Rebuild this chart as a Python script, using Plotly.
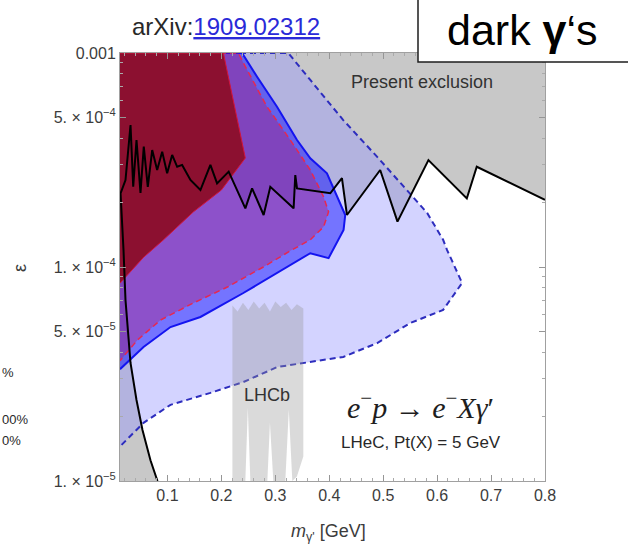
import plotly.graph_objects as go

# ---------------- data ----------------
# Present exclusion: jagged upper boundary (black line)
jag_x = [0.0130, 0.0222, 0.0315, 0.0365, 0.0426, 0.0500, 0.0561, 0.0635, 0.0717, 0.0809,
         0.0902, 0.0994, 0.1087, 0.1180, 0.1272, 0.1426, 0.1611, 0.1796, 0.1920, 0.2135,
         0.2444, 0.2569, 0.2783, 0.2907, 0.3339, 0.3370, 0.3402, 0.4019, 0.4235, 0.4328,
         0.4944, 0.5265, 0.5839, 0.6550, 0.6735, 0.8000]
jag_y = [2.21e-4, 2.55e-4, 4.61e-4, 2.37e-4, 3.92e-4, 2.22e-4, 3.65e-4, 2.37e-4, 3.52e-4, 2.84e-4,
         3.46e-4, 2.74e-4, 3.34e-4, 2.94e-4, 3.00e-4, 2.55e-4, 2.29e-4, 3.00e-4, 2.46e-4, 2.79e-4,
         1.88e-4, 2.33e-4, 1.75e-4, 2.37e-4, 1.88e-4, 2.69e-4, 2.33e-4, 2.21e-4, 2.60e-4, 1.75e-4,
         2.84e-4, 1.63e-4, 3.16e-4, 2.09e-4, 2.94e-4, 2.06e-4]
# Present exclusion: lower-left boundary (black curve), from bottom up
low_x = [0.0815, 0.0685, 0.0537, 0.0426, 0.0315, 0.0222, 0.0185, 0.0150, 0.0130]
low_y = [1.0e-5, 1.25e-5, 1.73e-5, 2.39e-5, 3.56e-5, 7.0e-5, 1.2e-4, 1.8e-4, 2.21e-4]

# LHeC reach, dashed blue (outer)
lb_x = [0.012, 0.324, 0.3648, 0.4259, 0.4889, 0.5315, 0.5815, 0.6111, 0.6185, 0.6463,
        0.6111, 0.55, 0.4889, 0.4259, 0.3037, 0.2407, 0.1796, 0.1056, 0.0556, 0.012]
lb_y = [1e-3, 1e-3, 7.48e-4, 4.86e-4, 3.27e-4, 2.47e-4, 1.79e-4, 1.34e-4, 1.20e-4, 8.42e-5,
        6.30e-5, 5.47e-5, 4.41e-5, 3.80e-5, 3.41e-5, 2.90e-5, 2.58e-5, 2.27e-5, 1.87e-5, 1.45e-5]

# solid blue region
bl_x = [0.012, 0.2383, 0.2661, 0.3031, 0.3402, 0.3648, 0.3957, 0.4296, 0.4265, 0.3987,
        0.3648, 0.3031, 0.2407, 0.1611, 0.1056, 0.0556, 0.012]
bl_y = [1e-3, 1e-3, 7.75e-4, 5.61e-4, 3.92e-4, 3.22e-4, 2.74e-4, 1.75e-4, 1.49e-4, 1.10e-4,
        1.16e-4, 9.37e-5, 7.56e-5, 5.84e-5, 5.24e-5, 4.23e-5, 3.33e-5]

# dashed red region
rd_x = [0.012, 0.2315, 0.2444, 0.2846, 0.3278, 0.3648, 0.3894, 0.3987, 0.3894, 0.3648,
        0.3278, 0.2778, 0.2111, 0.1481, 0.0870, 0.0444, 0.012]
rd_y = [1e-3, 1e-3, 8.63e-4, 5.61e-4, 3.92e-4, 2.84e-4, 2.13e-4, 1.81e-4, 1.54e-4, 1.34e-4,
        1.19e-4, 1.00e-4, 8.06e-5, 6.79e-5, 5.65e-5, 4.56e-5, 3.65e-5]

# dark red region
dr_x = [0.012, 0.2037, 0.2444, 0.2000, 0.1481, 0.0926, 0.0556, 0.012]
dr_y = [1e-3, 1e-3, 3.23e-4, 2.29e-4, 1.81e-4, 1.34e-4, 1.11e-4, 8.4e-5]

# LHCb band
lhcb_x = [0.2204, 0.23, 0.24, 0.25, 0.26, 0.27, 0.28, 0.29, 0.30, 0.31, 0.32, 0.33, 0.34, 0.3519,
          0.3519, 0.340, 0.3315, 0.325, 0.3185, 0.2963, 0.290, 0.2852, 0.2537, 0.249, 0.2444, 0.2204]
lhcb_y = [6.6e-5, 6.2e-5, 6.8e-5, 6.3e-5, 6.9e-5, 6.4e-5, 6.8e-5, 6.2e-5, 6.9e-5, 6.5e-5, 6.8e-5, 6.3e-5, 6.7e-5, 6.4e-5,
          1.3e-5, 1.05e-5, 1.0e-5, 2.15e-5, 1.0e-5, 1.0e-5, 1.87e-5, 1.0e-5, 1.0e-5, 2.2e-5, 1.0e-5, 1.0e-5]

x_ticks = [0.1, 0.2, 0.3, 0.4, 0.5, 0.6, 0.7, 0.8]
x_ticktext = ["0.1", "0.2", "0.3", "0.4", "0.5", "0.6", "0.7", "0.8"]
y_ticks = [1e-5, 5e-5, 1e-4, 5e-4, 1e-3]
y_ticktext = ["1. × 10<sup>−5</sup>", "5. × 10<sup>−5</sup>", "1. × 10<sup>−4</sup>",
              "5. × 10<sup>−4</sup>", "0.001"]
x_minor = [round(0.02 * i, 2) for i in range(1, 41) if round(0.02 * i, 2) not in x_ticks]
y_minor = [m * 10 ** e for e in (-5, -4) for m in range(2, 10) if m != 5]

FONT = "Liberation Sans"

# gray exclusion polygon: left-bottom, up the curve, along the jagged line, top
gx = [0.012] + low_x + jag_x + [0.8, 0.012]
gy = [1e-5] + low_y + jag_y + [1e-3, 1e-3]

fig = go.Figure()
fig.add_trace(go.Scatter(x=gx, y=gy, fill="toself", fillcolor="rgb(200,200,200)",
                         mode="none", hoverinfo="skip"))
fig.add_trace(go.Scatter(x=lb_x, y=lb_y, fill="toself", fillcolor="rgba(150,150,255,0.42)",
                         mode="lines", line=dict(color="rgb(45,45,190)", width=2, dash="6px,4px")))
fig.add_trace(go.Scatter(x=bl_x, y=bl_y, fill="toself", fillcolor="rgba(0,0,255,0.45)",
                         mode="lines", line=dict(color="rgb(20,20,240)", width=2)))
fig.add_trace(go.Scatter(x=rd_x, y=rd_y, fill="toself", fillcolor="rgba(200,0,80,0.30)",
                         mode="lines", line=dict(color="rgb(230,40,80)", width=1.5, dash="6px,4px")))
fig.add_trace(go.Scatter(x=dr_x, y=dr_y, fill="toself", fillcolor="rgb(140,16,48)",
                         mode="lines", line=dict(color="rgb(210,20,60)", width=1)))
fig.add_trace(go.Scatter(x=lhcb_x, y=lhcb_y, fill="toself", fillcolor="rgba(150,150,150,0.35)",
                         mode="none"))
fig.add_trace(go.Scatter(x=low_x + jag_x, y=low_y + jag_y, mode="lines",
                         line=dict(color="black", width=2)))

axis_common = dict(showline=True, linecolor="rgb(160,160,160)", linewidth=1, mirror="ticks",
                   ticks="inside", ticklen=6, tickcolor="rgb(150,150,150)", showgrid=False,
                   zeroline=False, tickfont=dict(family=FONT, size=16, color="rgb(60,60,60)"))
fig.update_xaxes(range=[0.012, 0.8], tickmode="array", tickvals=x_ticks, ticktext=x_ticktext,
                 minor=dict(ticks="inside", ticklen=3, tickcolor="rgb(170,170,170)",
                            tickmode="array", tickvals=x_minor), **axis_common)
fig.update_yaxes(type="log", range=[-5, -3], tickmode="array", tickvals=y_ticks, ticktext=y_ticktext,
                 minor=dict(ticks="inside", ticklen=3, tickcolor="rgb(170,170,170)",
                            tickmode="array", tickvals=y_minor), **axis_common)

ann = []
def px2paper(px, py):
    return (px - 120) / 425.0, (481 - py) / 428.0

# arXiv label
x0, y0 = px2paper(130, 27)
ann.append(dict(x=x0, y=y0, xref="paper", yref="paper", xanchor="left", yanchor="middle",
                text='arXiv:<span style="color:#2a2ad8"><u>1909.02312</u></span>', showarrow=False,
                font=dict(family=FONT, size=24, color="rgb(40,40,40)")))
# dark photon box text
x0, y0 = px2paper(522, 30)
ann.append(dict(x=x0, y=y0, xref="paper", yref="paper", xanchor="center", yanchor="middle",
                text="dark <b>γ</b>‘s", showarrow=False,
                font=dict(family=FONT, size=43, color="black")))
# epsilon axis label
x0, y0 = px2paper(20, 268)
ann.append(dict(x=x0, y=y0, xref="paper", yref="paper", xanchor="center", yanchor="middle",
                text="ε", textangle=-90, showarrow=False,
                font=dict(family=FONT, size=18, color="rgb(60,60,60)")))
# x axis label
x0, y0 = px2paper(328, 532)
ann.append(dict(x=x0, y=y0, xref="paper", yref="paper", xanchor="center", yanchor="middle",
                text="<i>m</i><sub>γ'</sub> [GeV]", showarrow=False,
                font=dict(family=FONT, size=18, color="rgb(60,60,60)")))
# visible fragments of the legend at the left edge
for txt, ry in [("%", 372), ("00%", 419), ("0%", 440)]:
    x0, y0 = px2paper(0, ry)
    ann.append(dict(x=x0, y=y0, xref="paper", yref="paper", xanchor="left", yanchor="middle",
                    text=txt, showarrow=False, font=dict(family=FONT, size=13, color="rgb(40,40,40)")))
# in-plot labels
ann.append(dict(x=0.572, y=-3.135, xref="x", yref="y", text="Present exclusion", showarrow=False,
                font=dict(family=FONT, size=18, color="rgb(50,50,50)")))
ann.append(dict(x=0.2852, y=-4.6, xref="x", yref="y", text="LHCb", showarrow=False,
                font=dict(family=FONT, size=18, color="rgb(50,50,50)")))
ann.append(dict(x=0.570, y=-4.645, xref="x", yref="y",
                text="<i>e</i><sup>−</sup><i>p</i> → <i>e</i><sup>−</sup><i>X</i><i>γ</i>′",
                showarrow=False, font=dict(family="Liberation Serif", size=30, color="rgb(30,30,30)")))
ann.append(dict(x=0.570, y=-4.82, xref="x", yref="y", text="LHeC, Pt(X) = 5 GeV", showarrow=False,
                font=dict(family=FONT, size=17, color="rgb(40,40,40)")))

bx0, by0 = px2paper(418, 62)
bx1, by1 = px2paper(660, -5)
fig.update_layout(
    width=628, height=548, showlegend=False,
    margin=dict(l=120, r=83, t=53, b=67),
    paper_bgcolor="white", plot_bgcolor="white",
    annotations=ann,
    shapes=[dict(type="rect", xref="paper", yref="paper", x0=bx0, y0=by0, x1=bx1, y1=by1,
                 line=dict(color="rgb(30,30,30)", width=1.5), fillcolor="white", layer="above")],
)
fig.write_html("out.html")
